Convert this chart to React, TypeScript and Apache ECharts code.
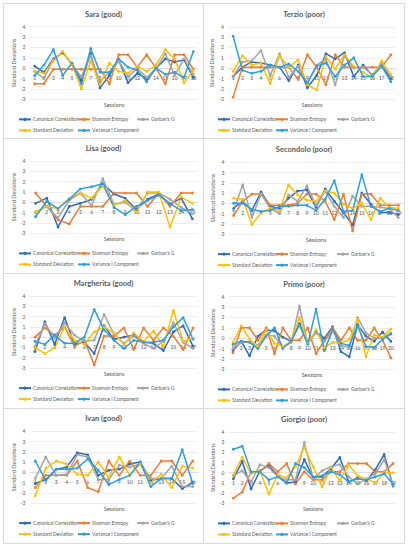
import React, { useEffect, useRef } from 'react';
import * as echarts from 'echarts';

// ---------- series names & colours ----------
const SERIES_NAMES = ['Canonical Correlation', 'Shannon Entropy', "Gorban's G", 'Standard Deviation', 'Variance I Component'];
const SERIES_COLORS = ['#2B6CC0', '#ED7D31', '#A5A5A5', '#FFC000', '#2A9FE3'];

// ---------- Sara (good) ----------
const saraCanonical = [0.2, -0.4, 0.9, 1.5, 0.4, -1.2, 1.4, -1.9, -0.7, 0.8, -1.4, -0.5, -1.0, 0.0, 0.9, 0.6, 0.8, -0.9];
const saraShannon = [-1.5, -1.5, -0.1, -0.1, -0.1, -0.1, -0.1, -0.1, -1.5, 1.3, 1.3, 0.1, 1.3, 0.0, -1.5, 1.3, 1.3, -0.1];
const saraGorban = [-0.3, -1.0, 0.8, 1.6, 0.3, -0.8, 1.2, -1.3, -0.4, 0.7, -0.8, 0.0, -0.9, -0.1, 1.4, -0.7, 0.9, -0.6];
const saraStdDev = [-0.3, -0.5, 0.7, 1.6, 0.4, -2.0, 0.7, -1.6, 0.5, -0.3, -0.5, 0.2, -0.3, 0.3, 1.8, 0.9, -1.4, -0.2];
const saraVariance = [-0.7, 0.3, 1.8, -0.7, 0.5, -1.5, 1.9, -0.4, -0.4, 0.9, 0.1, -0.2, -1.3, 0.0, -0.6, -0.4, -0.9, 1.6];

// ---------- Terzio (poor) ----------
const terzioCanonical = [-0.8, 0.1, 0.6, 0.5, 0.3, 0.1, -1.2, 0.3, -1.9, -0.7, 1.4, 0.9, 1.5, -0.8, 0.3, -0.7, 0.3, -1.0];
const terzioShannon = [-2.8, 0.1, 0.1, 0.1, 0.1, 0.1, 0.1, -1.1, 1.3, 0.1, -1.6, 1.3, 0.1, 0.1, 0.1, 0.1, 0.1, 1.3];
const terzioGorban = [-0.8, 0.6, 0.7, 1.7, -0.7, 1.4, -0.9, 0.2, -1.5, 0.3, 0.9, -1.6, 1.2, 0.0, 0.1, -0.6, 0.4, -0.8];
const terzioStdDev = [-0.3, 1.2, 0.3, 0.5, -1.5, 1.2, 0.1, 0.8, -1.6, -2.1, 1.1, -0.1, 1.3, 0.2, -0.4, -0.9, 0.7, -0.6];
const terzioVariance = [3.1, -0.2, -0.5, -0.3, 0.3, 0.1, 0.4, -0.3, -1.4, 0.2, 0.5, -0.8, 0.3, 1.0, -0.8, -0.8, 0.2, -1.3];

// ---------- Lisa (good) ----------
const lisaCanonical = [-0.1, 0.4, -2.4, -0.4, -0.1, 0.3, 1.8, 0.8, 0.4, -0.7, 0.3, 0.8, -0.2, 0.4, -1.6];
const lisaShannon = [0.9, -0.4, -1.7, -2.1, -0.4, -0.4, -0.4, 0.9, 0.9, 0.9, -0.4, 0.9, -0.4, 0.9, 0.9];
const lisaGorban = [-1.0, -0.4, -1.5, 0.2, 0.9, -0.3, 2.3, -0.2, 0.0, -0.8, 0.9, 0.9, 0.3, -0.5, -1.1];
const lisaStdDev = [-0.9, -0.4, -0.6, 0.4, 0.9, 0.4, 1.6, -0.3, 0.2, -1.0, 1.0, 1.0, -2.4, 0.5, -0.1];
const lisaVariance = [-1.4, 0.1, -0.6, 0.3, 1.3, 1.5, 1.8, -0.5, -1.2, -0.4, 0.2, 0.7, -0.1, -0.8, -0.7];

// ---------- Secondolo (poor) ----------
const secondoloCanonical = [-0.5, 0.2, -0.7, 1.1, -0.3, -0.5, 0.5, 1.2, 1.3, -0.4, 1.4, 0.2, -0.9, -2.1, 1.0, -0.1, -0.9, -0.9, -1.1];
const secondoloShannon = [-1.2, 0.2, 0.9, 0.9, -0.2, -0.2, -0.2, 0.0, 0.9, 0.9, 0.2, -1.6, 0.9, -2.7, 0.9, 0.9, -0.2, -0.2, -0.2];
const secondoloGorban = [-0.7, 1.8, -1.4, 0.9, -0.5, -1.0, 0.8, 0.2, 1.7, -0.2, 1.2, -0.3, -1.4, 0.7, -0.3, -0.3, -0.4, -0.5, -1.4];
const secondoloStdDev = [0.5, 0.4, -2.1, -0.9, -0.5, -0.7, 1.8, 0.8, 0.3, 0.2, 1.2, 1.0, -0.1, -0.5, 0.0, -1.6, 0.5, -0.4, -0.5];
const secondoloVariance = [0.0, 0.0, -0.6, -0.8, -0.7, -0.3, -0.3, -0.2, -0.2, -0.7, 0.4, 2.2, -0.8, -0.7, 2.8, -0.3, -0.8, -0.5, -0.7];

// ---------- Margherita (good) ----------
const margheritaCanonical = [-1.4, 1.5, -0.7, 1.9, -0.7, -0.5, -1.6, 1.1, -0.2, 0.0, 0.2, -0.5, -0.6, -1.3, 0.5, 1.1, -0.9];
const margheritaShannon = [0.0, 0.9, 0.2, 1.0, -0.9, -0.3, -2.7, 0.1, 0.1, 0.9, -1.2, 0.9, -0.3, 0.9, 0.1, -1.2, 0.9];
const margheritaGorban = [-0.9, 1.3, -0.1, 1.4, 0.2, -0.4, -0.3, 2.2, 0.3, -0.6, 0.1, -0.6, -1.1, -0.4, 1.4, -0.5, -1.1];
const margheritaStdDev = [-1.0, -1.6, -1.0, 1.0, -0.3, -0.7, 0.5, 1.0, 0.4, -0.7, 0.4, -0.4, 0.6, -0.9, 2.6, -0.4, -0.1];
const margheritaVariance = [-0.4, -0.7, 0.2, -0.6, -0.6, 0.0, 2.7, 0.7, -0.3, -1.1, -0.3, -0.5, -0.5, -0.3, 1.0, 1.9, -0.2];

// ---------- Primo (poor) ----------
const primoCanonical = [-1.2, -0.3, -1.7, 0.2, 0.8, 0.7, 0.1, -0.3, 1.4, -0.5, 0.6, 0.0, 1.1, -1.3, -1.8, 1.3, 0.2, -0.3, 0.6, -0.3];
const primoShannon = [-1.4, 1.0, 1.0, -0.2, 1.0, -1.5, 1.0, -0.2, -0.2, 1.0, -1.5, -0.2, 1.0, -0.2, 1.0, -0.2, -0.2, 1.0, -0.2, -1.9];
const primoGorban = [-1.0, -0.4, -0.4, -0.7, 0.3, 0.2, -0.9, -0.4, 3.1, -0.5, 0.5, -0.3, 0.7, -0.7, -0.9, 2.0, 0.5, 0.0, 0.0, 0.5];
const primoStdDev = [-0.4, 1.2, -0.1, -0.8, 0.8, -0.5, -0.8, -0.3, 2.0, -0.5, 0.8, -0.9, -0.4, -0.5, -0.1, 1.8, -1.8, 0.3, 0.1, 0.9];
const primoVariance = [-0.6, -0.3, -0.4, -1.0, 0.2, 1.0, -1.0, -0.3, 1.3, -0.6, 2.8, -1.2, 0.8, -0.5, -0.7, 1.2, -0.8, -0.9, -0.1, 0.4];

// ---------- Ivan (good) ----------
const ivanCanonical = [-1.1, -0.7, 0.3, 0.5, 1.9, 1.7, -0.3, 0.2, 0.3, 0.8, 1.0, -0.8, -0.6, -0.6, -1.6, -1.0];
const ivanShannon = [-1.5, -0.3, -0.3, -0.3, 1.1, -1.5, -1.9, 1.1, -0.3, 1.1, -0.3, -0.3, 1.1, 1.1, -0.3, 1.1];
const ivanGorban = [-0.6, 1.5, -0.3, -0.2, 1.7, 1.5, -0.7, -0.7, 0.7, 0.5, 0.8, -0.6, -0.6, 0.6, -1.4, -1.4];
const ivanStdDev = [-2.3, 0.4, 1.1, 0.8, -0.2, -0.3, 1.0, -0.5, 1.5, -0.3, 0.8, -1.0, -0.2, -1.5, 0.6, 0.4];
const ivanVariance = [1.1, -0.8, 0.3, 0.3, 0.4, 1.3, 0.2, -1.2, -0.7, -0.3, 1.0, -1.4, -0.6, -0.6, 2.2, -1.1];

// ---------- Giorgio (poor) ----------
const giorgioCanonical = [-0.6, 1.1, -1.6, 0.2, 0.7, -0.3, -1.0, -0.9, 1.3, -0.5, -0.4, 0.4, 1.5, -0.9, -0.5, -0.8, 0.3, 1.8, -1.3];
const giorgioShannon = [-2.5, -1.9, 0.1, 0.1, 0.9, 0.1, 0.9, -1.1, 0.1, -0.7, -0.7, 0.1, 0.1, 0.9, 0.9, 0.9, 0.1, 0.1, 0.9];
const giorgioGorban = [-0.3, 0.2, -0.9, 0.8, 0.5, -0.4, -0.7, -0.7, 3.0, -0.6, 0.2, 0.6, 0.8, -0.4, -1.1, -0.6, -0.1, 1.3, -1.2];
const giorgioStdDev = [-0.2, 1.5, -0.1, 0.2, -2.1, -0.2, -0.5, 0.6, 2.5, 0.6, -1.4, 0.5, -0.8, 0.8, -0.3, -0.6, -1.0, 0.0, 0.0];
const giorgioVariance = [2.3, 2.6, 0.1, 0.1, -0.7, -0.4, -1.0, 0.9, 0.5, -0.4, -0.3, 0.1, -0.2, -0.9, -0.6, -0.7, -0.4, -0.1, -1.1];

// y-axis range (standard deviations)
const Y_MIN = -3;
const Y_MAX = 4;
const Y_STEP = 1;

// ---------- panels (data + layout) ----------
const PANELS = [
  { title: 'Sara (good)', values: [saraCanonical, saraShannon, saraGorban, saraStdDev, saraVariance], col: 0, l: 30, r: 198, t: 26.7, b: 99.3 },
  { title: 'Terzio (poor)', values: [terzioCanonical, terzioShannon, terzioGorban, terzioStdDev, terzioVariance], col: 1, l: 228.5, r: 395.5, t: 26.8, b: 99.2 },
  { title: 'Lisa (good)', values: [lisaCanonical, lisaShannon, lisaGorban, lisaStdDev, lisaVariance], col: 0, l: 30, r: 198, t: 161, b: 233.3 },
  { title: 'Secondolo (poor)', values: [secondoloCanonical, secondoloShannon, secondoloGorban, secondoloStdDev, secondoloVariance], col: 1, l: 229, r: 403, t: 162.3, b: 234 },
  { title: 'Margherita (good)', values: [margheritaCanonical, margheritaShannon, margheritaGorban, margheritaStdDev, margheritaVariance], col: 0, l: 30, r: 198, t: 296, b: 368 },
  { title: 'Primo (poor)', values: [primoCanonical, primoShannon, primoGorban, primoStdDev, primoVariance], col: 1, l: 228.8, r: 395, t: 296.7, b: 369.3 },
  { title: 'Ivan (good)', values: [ivanCanonical, ivanShannon, ivanGorban, ivanStdDev, ivanVariance], col: 0, l: 30, r: 198, t: 431.3, b: 503 },
  { title: 'Giorgio (poor)', values: [giorgioCanonical, giorgioShannon, giorgioGorban, giorgioStdDev, giorgioVariance], col: 1, l: 228.9, r: 397.5, t: 432, b: 503.3 },
];

const FONT = 'Lato, "Open Sans", sans-serif';
const TEXT = '#595959';
const GRID_LINE = '#E3E3E3';
const BORDER = '#D9D9D9';

// legend item x positions per column (row 1: 3 items, row 2: 2 items)
const LEGEND_X = [
  [18, 77, 136, 18, 77],
  [217, 275, 336, 217, 275],
];
const PANEL_CX = [103.5, 304];

function buildOption() {
  const grid: any[] = [];
  const xAxis: any[] = [];
  const yAxis: any[] = [];
  const series: any[] = [];
  const title: any[] = [];
  const legend: any[] = [];

  PANELS.forEach((p, k) => {
    const n = p.values[0].length;
    const sessions = Array.from({ length: n }, (_, i) => String(i + 1));
    const h = p.b - p.t;
    // lift the category axis from the grid bottom up to the value 0 line
    const zeroLift = (h * (0 - Y_MIN)) / (Y_MAX - Y_MIN);
    grid.push({ left: p.l, top: p.t, width: p.r - p.l, height: h, outerBoundsMode: 'none', containLabel: false });

    xAxis.push({
      type: 'category',
      gridIndex: k,
      data: sessions,
      boundaryGap: true,
      position: 'bottom',
      offset: -zeroLift,
      axisLine: { show: true, onZero: false, lineStyle: { color: BORDER, width: 0.8 } },
      axisTick: { show: false },
      axisLabel: { interval: 0, fontSize: 5, color: TEXT, margin: 7.5, fontFamily: FONT },
      splitLine: { show: false },
    });
    yAxis.push({
      type: 'value',
      gridIndex: k,
      min: Y_MIN,
      max: Y_MAX,
      interval: Y_STEP,
      axisLine: { show: false, onZero: false },
      axisTick: { show: false },
      axisLabel: { fontSize: 5, color: TEXT, margin: 4.5, fontFamily: FONT },
      splitLine: { show: true, lineStyle: { color: GRID_LINE, width: 0.6 } },
      name: 'Standard Deviations',
      nameLocation: 'middle',
      nameRotate: 90,
      nameGap: p.col === 0 ? 10.5 : 10,
      nameTextStyle: { fontSize: 5.5, color: TEXT, fontFamily: FONT },
    });

    p.values.forEach((vals, s) => {
      series.push({
        type: 'line',
        name: SERIES_NAMES[s],
        xAxisIndex: k,
        yAxisIndex: k,
        data: vals,
        symbol: 'circle',
        symbolSize: 2.8,
        showSymbol: true,
        color: SERIES_COLORS[s],
        lineStyle: { width: 1.5, color: SERIES_COLORS[s] },
        itemStyle: { color: SERIES_COLORS[s] },
        emphasis: { disabled: true },
      });
    });

    title.push({
      text: p.title,
      left: PANEL_CX[p.col],
      top: p.t - 16.5,
      textAlign: 'center',
      padding: 0,
      textStyle: { fontSize: 7.5, fontWeight: 'bold', color: TEXT, fontFamily: FONT },
    });
    // x-axis title
    title.push({
      text: 'Sessions',
      left: (p.l + p.r) / 2,
      top: p.b + 2.8,
      textAlign: 'center',
      padding: 0,
      textStyle: { fontSize: 5.5, fontWeight: 'normal', color: TEXT, fontFamily: FONT },
    });

    SERIES_NAMES.forEach((name, s) => {
      const row = s < 3 ? 0 : 1;
      const cy = p.b + (row === 0 ? 20.8 : 31.8);
      legend.push({
        data: [name],
        left: LEGEND_X[p.col][s],
        top: cy - 3.2,
        orient: 'horizontal',
        padding: 0,
        itemWidth: 12,
        itemHeight: 4,
        itemGap: 0,
        selectedMode: false,
        textStyle: { fontSize: 4.8, color: TEXT, fontFamily: FONT, padding: [0, 0, 0, -3] },
      });
    });
  });

  const graphic: any[] = [
    { type: 'rect', silent: true, shape: { x: 3.5, y: 3.5, width: 401, height: 540 }, style: { fill: 'none', stroke: BORDER, lineWidth: 1 } },
    { type: 'line', silent: true, shape: { x1: 203.5, y1: 3.5, x2: 203.5, y2: 543.5 }, style: { stroke: BORDER, lineWidth: 1 } },
    { type: 'line', silent: true, shape: { x1: 3.5, y1: 138.5, x2: 404.5, y2: 138.5 }, style: { stroke: BORDER, lineWidth: 1.2 } },
    { type: 'line', silent: true, shape: { x1: 3.5, y1: 273.5, x2: 404.5, y2: 273.5 }, style: { stroke: BORDER, lineWidth: 1.2 } },
    { type: 'line', silent: true, shape: { x1: 3.5, y1: 408.5, x2: 404.5, y2: 408.5 }, style: { stroke: BORDER, lineWidth: 1.2 } },
  ];

  return {
    animation: false,
    backgroundColor: '#FFFFFF',
    textStyle: { fontFamily: FONT },
    title,
    legend,
    grid,
    xAxis,
    yAxis,
    series,
    graphic,
  };
}

export default function App() {
  const ref = useRef<HTMLDivElement>(null);
  useEffect(() => {
    if (!ref.current) return;
    const chart = echarts.init(ref.current, undefined, { renderer: 'svg' });
    chart.setOption(buildOption() as any);
    return () => chart.dispose();
  }, []);
  return <div ref={ref} style={{ position: 'absolute', left: 0, top: 0, width: 409, height: 550 }} />;
}
